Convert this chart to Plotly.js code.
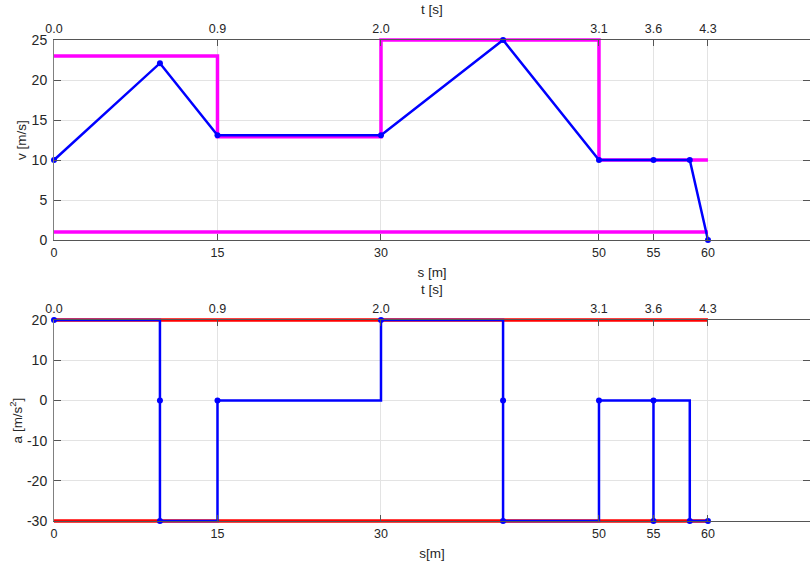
<!DOCTYPE html>
<html><head><meta charset="utf-8">
<script src="https://cdn.plot.ly/plotly-3.0.1.min.js"></script>
<style>html,body{margin:0;padding:0;background:#fff}</style>
</head><body>
<div id="chart" style="width:810px;height:570px"></div>
<script>
// tick positions (s) and corresponding time labels
const sTicks = [0, 15, 30, 50, 55, 60];
const tLabels = ['0.0', '0.9', '2.0', '3.1', '3.6', '4.3'];
const vTicks = [0, 5, 10, 15, 20, 25];
const aTicks = [-30, -20, -10, 0, 10, 20];

// velocity profile
const vS = [0, 9.72, 15, 30, 41.2, 50, 55, 58.33, 60];
const vV = [10, 22.1, 13.1, 13.1, 25, 10, 10, 10, 0];
// velocity upper limit (step)
const vMaxS = [0, 15, 15, 30, 30, 50, 50, 60];
const vMaxV = [23, 23, 12.9, 12.9, 25, 25, 10, 10];
// velocity lower limit
const vMinS = [0, 60];
const vMinV = [1, 1];

// acceleration path
const aS = [0, 9.72, 9.72, 15, 15, 30, 30, 41.2, 41.2, 50, 50, 55, 55, 55, 58.33, 58.33, 60];
const aA = [20, 20, -30, -30, 0, 0, 20, 20, -30, -30, 0, 0, -30, 0, 0, -30, -30];
// acceleration sample points
const aMarkS = [0, 9.72, 9.72, 15, 30, 41.2, 41.2, 50, 55, 55, 58.33, 60];
const aMarkA = [20, 0, -30, 0, 20, 0, -30, 0, 0, -30, -30, -30];
// acceleration limits
const aLimS = [0, 60];
const aMaxA = [20, 20];
const aMinA = [-30, -30];

const BLUE = '#0000ff', MAG = '#ff00ff', RED = '#ff0000';
const TXT = '#262626', GRID = '#e3e3e3', AX = '#555555', YAX = '#808080';
const FAM = 'Liberation Sans, Arial, sans-serif';
const XFONT = {family: FAM, size: 12.5, color: TXT};
const YFONT = {family: FAM, size: 14, color: TXT};
const TFONT = {family: FAM, size: 13.5, color: TXT};
const XR = [0, 69.36];

const traces = [
  {x: vMaxS, y: vMaxV, xaxis: 'x', yaxis: 'y', mode: 'lines', line: {color: MAG, width: 3.5}, cliponaxis: false},
  {x: vMinS, y: vMinV, xaxis: 'x', yaxis: 'y', mode: 'lines', line: {color: MAG, width: 3.5}, cliponaxis: false},
  {x: vS, y: vV, xaxis: 'x', yaxis: 'y', mode: 'lines+markers', line: {color: BLUE, width: 2.5},
   marker: {color: BLUE, size: 6}, cliponaxis: false},
  {x: aLimS, y: aMaxA, xaxis: 'x3', yaxis: 'y2', mode: 'lines', line: {color: RED, width: 3.5}, cliponaxis: false},
  {x: aLimS, y: aMinA, xaxis: 'x3', yaxis: 'y2', mode: 'lines', line: {color: RED, width: 3.5}, cliponaxis: false},
  {x: aS, y: aA, xaxis: 'x3', yaxis: 'y2', mode: 'lines', line: {color: BLUE, width: 2.5}, cliponaxis: false},
  {x: aMarkS, y: aMarkA, xaxis: 'x3', yaxis: 'y2', mode: 'markers', marker: {color: BLUE, size: 6}, cliponaxis: false}
];

const H = 570;
const topDom = [1 - 240 / H, 1 - 40 / H];
const botDom = [1 - 521 / H, 1 - 320 / H];

function sAxis(anchor, title) {
  return {
    anchor: anchor, domain: [0, 1], range: XR, tickmode: 'array', tickvals: sTicks,
    ticktext: sTicks.map(String), ticks: 'inside', ticklen: 6, tickcolor: AX,
    showline: true, linecolor: AX, linewidth: 1, showgrid: true, gridcolor: GRID,
    zeroline: false, tickfont: XFONT, ticklabelstandoff: 1,
    title: {text: title, font: TFONT, standoff: 8}
  };
}
function tAxis(anchor, over) {
  return {
    anchor: anchor, overlaying: over, side: 'top', range: XR, tickmode: 'array', tickvals: sTicks,
    ticktext: tLabels, ticks: 'inside', ticklen: 6, tickcolor: AX,
    showline: true, linecolor: AX, linewidth: 1, showgrid: false,
    zeroline: false, tickfont: XFONT, ticklabelstandoff: 1,
    title: {text: 't [s]', font: TFONT, standoff: 4}
  };
}
function yAxis(anchor, dom, range, ticks, title) {
  return {
    anchor: anchor, domain: dom, range: range, tickmode: 'array', tickvals: ticks,
    ticktext: ticks.map(String),
    ticks: 'inside', ticklen: 7, tickcolor: AX, mirror: 'ticks',
    showline: true, linecolor: YAX, linewidth: 1, showgrid: true, gridcolor: GRID,
    zeroline: false, tickfont: YFONT, ticklabelstandoff: 3,
    title: {text: title, font: TFONT, standoff: 1}
  };
}

const layout = {
  width: 810, height: 570, showlegend: false,
  margin: {l: 54, r: 0, t: 0, b: 0, pad: 0},
  paper_bgcolor: '#ffffff', plot_bgcolor: '#ffffff', font: XFONT,
  xaxis: sAxis('y', 's [m]'),
  xaxis2: tAxis('y', 'x'),
  xaxis3: sAxis('y2', 's[m]'),
  xaxis4: tAxis('y2', 'x3'),
  yaxis: yAxis('x', topDom, [0, 25], vTicks, 'v [m/s]'),
  yaxis2: yAxis('x3', botDom, [-30, 20], aTicks, 'a [m/s<sup>2</sup>]')
};
// empty traces to activate the top time axes
traces.push({x: [], y: [], xaxis: 'x2', yaxis: 'y', mode: 'lines', hoverinfo: 'skip'});
traces.push({x: [], y: [], xaxis: 'x4', yaxis: 'y2', mode: 'lines', hoverinfo: 'skip'});

Plotly.newPlot('chart', traces, layout, {displayModeBar: false, staticPlot: true}).then(function () {
  // let thick limit lines lying on the axis boundary show in full
  document.querySelectorAll('#chart .cartesianlayer [clip-path]').forEach(function (el) {
    el.removeAttribute('clip-path');
  });
});
</script>
</body></html>
